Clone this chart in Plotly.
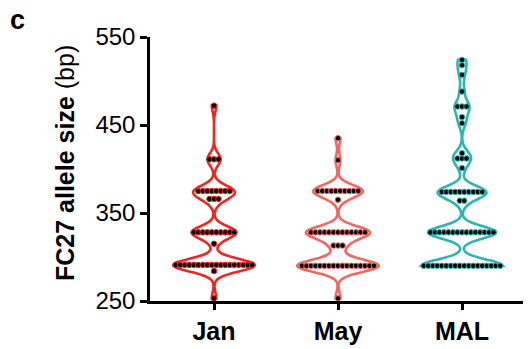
import numpy as np
import plotly.graph_objects as go

# Allele sizes (bp) observed per group, with the number of isolates at each size
categories = ["Jan", "May", "MAL"]

jan_alleles = [253, 284, 291, 315, 328, 366, 375, 411, 472]
jan_counts = [1, 1, 18, 1, 10, 3, 8, 3, 1]

may_alleles = [253, 290, 313, 328, 365, 375, 410, 435]
may_counts = [1, 17, 3, 13, 1, 10, 1, 1]

mal_alleles = [290, 328, 364, 374, 401, 412, 418, 452, 459, 471, 488, 507, 518, 524]
mal_counts = [18, 15, 2, 10, 1, 3, 1, 1, 1, 3, 1, 1, 1, 1]

colors = ["#ef2620", "#f3675f", "#2cb5b2"]

groups = [
    (jan_alleles, jan_counts),
    (may_alleles, may_counts),
    (mal_alleles, mal_counts),
]

# pixel geometry of the plotting area
W, H = 529, 349
L, R, T, B = 150, 6, 37, 48
px_per_unit = 124.0
x_lo = -(214 - L) / px_per_unit
x_hi = x_lo + (W - L - R) / px_per_unit
dot_step = 4.5 / px_per_unit  # horizontal spacing of stacked dots

fig = go.Figure()

for i, ((alleles, counts), col) in enumerate(zip(groups, colors)):
    values = np.repeat(alleles, counts)
    fig.add_trace(go.Violin(
        y=values, x0=i, orientation="v",
        points=False, box_visible=False, meanline_visible=False,
        spanmode="hard", bandwidth=7, scalemode="width", width=0.66,
        line=dict(color=col, width=2.6), fillcolor="white",
        hoverinfo="skip", showlegend=False,
    ))
    # dots laid out side by side for each allele size
    xs, ys = [], []
    for a, n in zip(alleles, counts):
        offs = (np.arange(n) - (n - 1) / 2.0) * dot_step
        xs.extend(i + offs)
        ys.extend([a] * n)
    fig.add_trace(go.Scatter(
        x=xs, y=ys, mode="markers",
        marker=dict(color="black", size=5.5, line=dict(color=col, width=1)),
        hoverinfo="skip", showlegend=False,
    ))

fig.update_layout(
    width=W, height=H,
    margin=dict(l=L, r=R, t=T, b=B),
    paper_bgcolor="white", plot_bgcolor="white",
    violinmode="overlay",
    font=dict(family="Liberation Sans, Arial, sans-serif", color="black"),
    xaxis=dict(
        type="linear", range=[x_lo, x_hi],
        tickvals=[0, 1, 2], ticktext=categories,
        tickfont=dict(size=25, family="Liberation Sans, Arial, sans-serif", weight="bold"),
        ticks="outside", ticklen=6, tickwidth=2.5, tickcolor="black",
        showline=True, linecolor="black", linewidth=2.5,
        showgrid=False, zeroline=False, automargin=False,
    ),
    yaxis=dict(
        range=[250, 550], tickvals=[250, 350, 450, 550],
        tickfont=dict(size=24),
        ticks="outside", ticklen=7, tickwidth=2.5, tickcolor="black",
        showline=True, linecolor="black", linewidth=2.5,
        showgrid=False, zeroline=False, automargin=False,
    ),
    annotations=[
        dict(
            text="<b>FC27 allele size</b> (bp)", textangle=-90,
            xref="paper", yref="paper",
            x=(65 - L) / (W - L - R), y=(H - B - 163) / (H - T - B),
            xanchor="center", yanchor="middle", showarrow=False,
            font=dict(size=25),
        ),
        dict(
            text="<b>c</b>",
            xref="paper", yref="paper",
            x=(8 - L) / (W - L - R), y=(H - B - 3) / (H - T - B),
            xanchor="left", yanchor="top", showarrow=False,
            font=dict(size=27),
        ),
    ],
)

fig.write_html("out.html")
